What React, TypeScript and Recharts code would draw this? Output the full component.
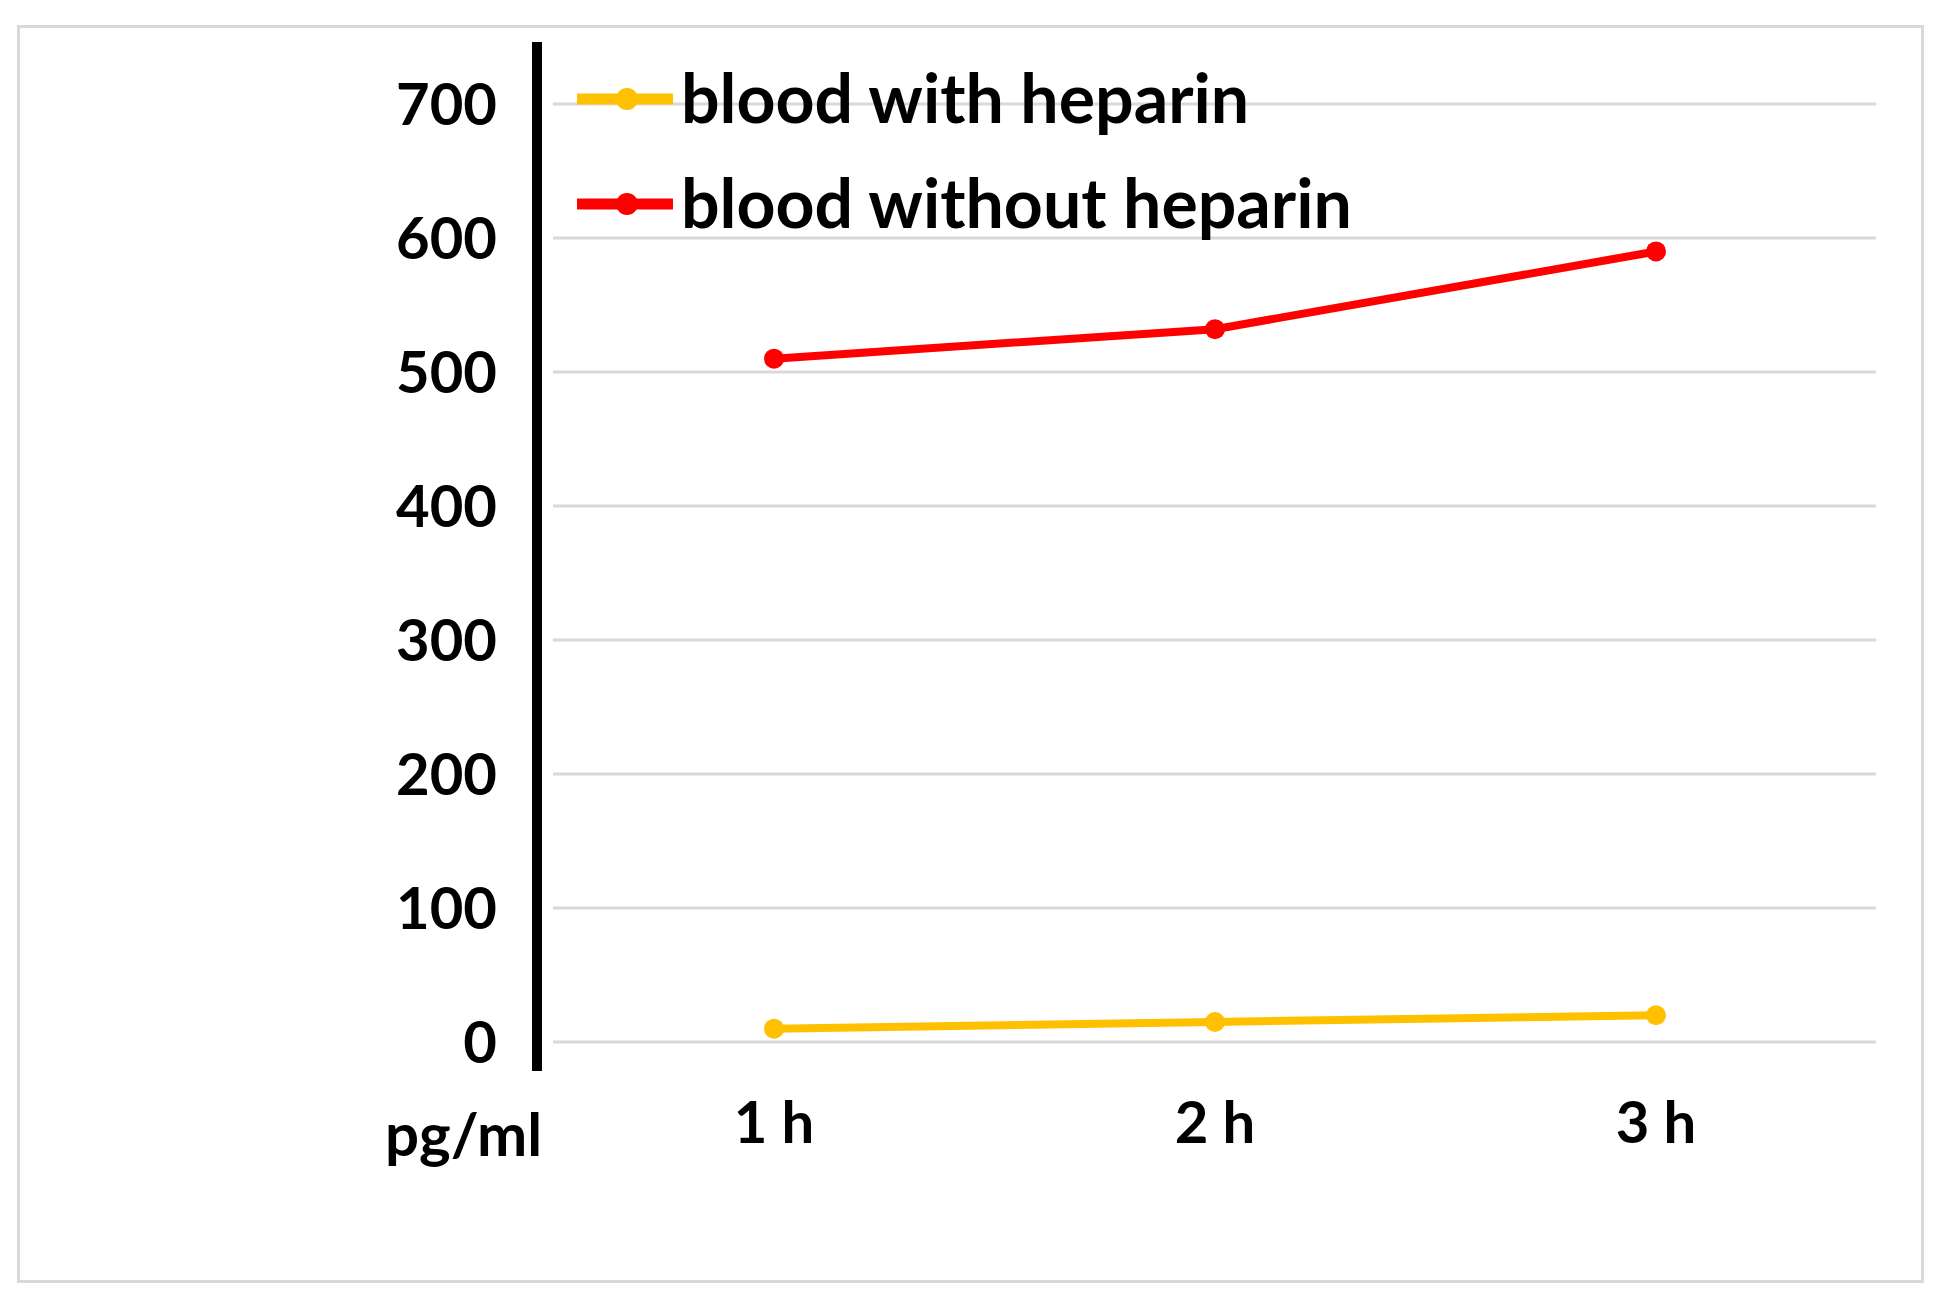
import { LineChart, Line, XAxis, YAxis, CartesianGrid, Legend } from "recharts";

const times = ["1 h", "2 h", "3 h"];
const withHeparin = [10, 15, 20];
const withoutHeparin = [510, 532, 590];
const yTicks = [0, 100, 200, 300, 400, 500, 600, 700];

const FONT = "Lato, 'Open Sans', sans-serif";
const YELLOW = "#FFC000";
const RED = "#FF0000";

const data = times.map((t, i) => ({ time: t, withH: withHeparin[i], withoutH: withoutHeparin[i] }));

function LegendContent({ payload }: any) {
  return (
    <div>
      {(payload ?? []).map((p: any) => (
        <div key={p.value} style={{ display: "flex", alignItems: "center", height: 105 }}>
          <svg width={96} height={30} style={{ display: "block" }}>
            <line x1={0} y1={15} x2={96} y2={15} stroke={p.color} strokeWidth={11} />
            <circle cx={50} cy={15} r={11} fill={p.color} />
          </svg>
          <span
            style={{
              marginLeft: 8,
              fontFamily: FONT,
              fontWeight: 700,
              fontSize: 68,
              color: "#000",
              lineHeight: 1,
              whiteSpace: "nowrap",
              position: "relative",
              top: -2,
            }}
          >
            {p.value}
          </span>
        </div>
      ))}
    </div>
  );
}

export default function App() {
  const tickStyle = { fill: "#000", fontSize: 58, fontWeight: 700, fontFamily: FONT };
  return (
    <div style={{ position: "absolute", left: 0, top: 0, width: 1947, height: 1308, background: "#fff" }}>
      <div
        style={{
          position: "absolute",
          left: 17,
          top: 25,
          width: 1907,
          height: 1258,
          border: "3px solid #d9d9d9",
          boxSizing: "border-box",
        }}
      />
      <div style={{ position: "absolute", left: 0, top: 0 }}>
        <LineChart width={1947} height={1308} data={data} margin={{ top: 42, right: 71, bottom: 177, left: 417 }}>
          <CartesianGrid
            vertical={false}
            stroke="#d9d9d9"
            strokeWidth={3}
            x={553}
            width={1323}
            horizontalValues={yTicks}
          />
          <XAxis
            dataKey="time"
            axisLine={false}
            tickLine={false}
            tickSize={0}
            tickMargin={31}
            height={60}
            padding={{ left: 237, right: 220 }}
            tick={tickStyle}
            interval={0}
          />
          <YAxis
            width={120}
            domain={[-21.6, 746.3]}
            ticks={yTicks}
            interval={0}
            axisLine={{ stroke: "#000", strokeWidth: 10 }}
            tickLine={false}
            tickSize={0}
            tickMargin={40}
            tick={tickStyle}
            label={{
              content: () => (
                <text x={385} y={1156} fill="#000" fontSize={60} fontWeight={700} fontFamily={FONT}>
                  pg/ml
                </text>
              ),
            }}
          />
          <Legend
            layout="vertical"
            align="center"
            verticalAlign="middle"
            wrapperStyle={{ top: 46, left: 577, width: "auto" }}
            content={<LegendContent />}
          />
          <Line
            name="blood with heparin"
            dataKey="withH"
            stroke={YELLOW}
            strokeWidth={8}
            dot={{ r: 10, fill: YELLOW, stroke: YELLOW, strokeWidth: 0 }}
            activeDot={false}
            isAnimationActive={false}
          />
          <Line
            name="blood without heparin"
            dataKey="withoutH"
            stroke={RED}
            strokeWidth={8}
            dot={{ r: 10, fill: RED, stroke: RED, strokeWidth: 0 }}
            activeDot={false}
            isAnimationActive={false}
          />
        </LineChart>
      </div>
    </div>
  );
}
